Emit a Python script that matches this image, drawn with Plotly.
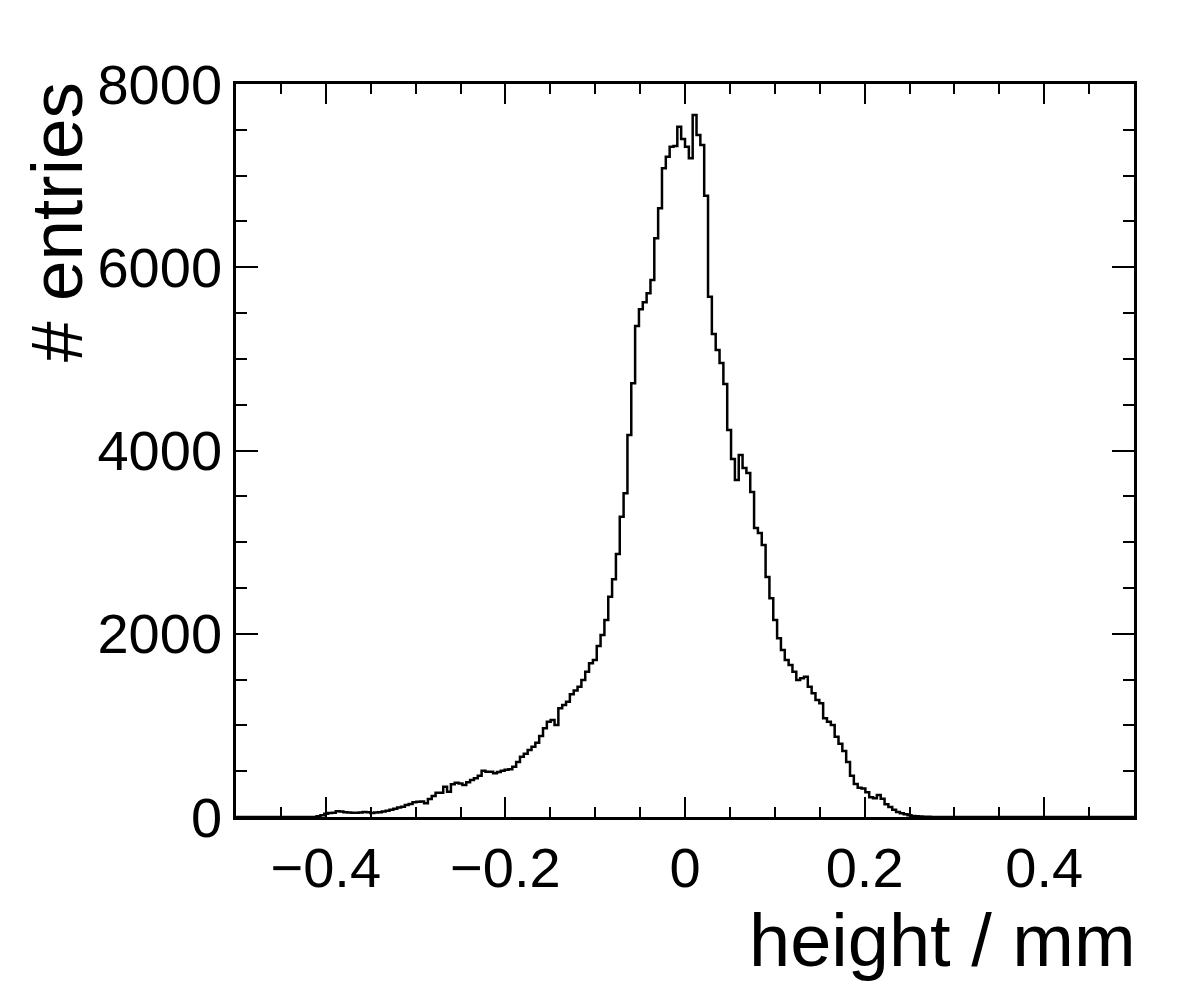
import numpy as np
import plotly.graph_objects as go

# ---- data ----
x_min, x_max = -0.5, 0.5
n_bins = 234
first_bin = 21  # index of first listed bin
counts = [
    8, 20, 35, 45, 47, 62, 60, 51, 50, 47,
    47, 48, 55, 52, 44, 50, 51, 60, 69, 80,
    91, 105, 113, 130, 142, 160, 167, 168, 150, 196,
    230, 266, 266, 331, 276, 357, 375, 365, 349, 380,
    404, 422, 450, 506, 495, 495, 477, 490, 506, 515,
    520, 549, 600, 658, 690, 730, 767, 811, 884, 968,
    1040, 1059, 1004, 1186, 1222, 1258, 1340, 1380, 1422, 1495,
    1586, 1677, 1713, 1866, 1986, 2150, 2405, 2594, 2870, 3277,
    3533, 4169, 4733, 5359, 5541, 5617, 5716, 5861, 6316, 6643,
    7080, 7207, 7316, 7323, 7534, 7400, 7316, 7189, 7662, 7443,
    7334, 6780, 5679, 5271, 5097, 4955, 4726, 4224, 3907, 3678,
    3951, 3809, 3754, 3547, 3154, 3100, 2969, 2619, 2387, 2150,
    1950, 1823, 1713, 1659, 1586, 1495, 1513, 1532, 1422, 1350,
    1277, 1241, 1077, 1040, 1004, 877, 800, 720, 600, 450,
    360, 320, 310, 270, 215, 205, 240, 200, 140, 110,
    80, 55, 40, 30, 20, 12, 8, 5, 3, 2,
]
x_ticks = [-0.4, -0.2, 0, 0.2, 0.4]
y_ticks = [0, 2000, 4000, 6000, 8000]
x_title = "height / mm"
y_title = "# entries"

# ---- build step outline ----
edges = np.linspace(x_min, x_max, n_bins + 1)
full = np.zeros(n_bins)
full[first_bin:first_bin + len(counts)] = counts
xs = edges
ys = np.append(full, full[-1])

fig = go.Figure()
fig.add_trace(go.Scatter(
    x=xs, y=ys, mode="lines",
    line=dict(shape="hv", color="black", width=2.5),
    showlegend=False, hoverinfo="skip",
))

font = "Liberation Sans, Arial, Helvetica, sans-serif"
axis_common = dict(
    showline=True, linecolor="black", linewidth=2.5, mirror="allticks",
    ticks="inside", tickcolor="black", tickwidth=2,
    showgrid=False, zeroline=False,
    tickfont=dict(family=font, size=56, color="black"),
)
fig.update_xaxes(
    range=[x_min, x_max], tickvals=x_ticks,
    ticktext=[("\u2212" if v < 0 else "") + (f"{abs(v):g}") for v in x_ticks],
    ticklen=20,
    minor=dict(ticks="inside", dtick=0.05, tick0=0, ticklen=10, tickwidth=2,
               tickcolor="black", showgrid=False),
    **axis_common,
)
fig.update_yaxes(
    range=[0, 8000], tickvals=y_ticks, ticktext=[str(v) for v in y_ticks],
    ticklen=22,
    minor=dict(ticks="inside", dtick=500, tick0=0, ticklen=11, tickwidth=2,
               tickcolor="black", showgrid=False),
    **axis_common,
)

fig.add_annotation(
    text=x_title, xref="paper", yref="paper", x=1.005, y=-0.168,
    xanchor="right", yanchor="middle", showarrow=False,
    font=dict(family=font, size=74, color="black"),
)
fig.add_annotation(
    text=y_title, xref="paper", yref="paper", x=-0.2, y=1.006,
    xanchor="center", yanchor="top", textangle=-90, showarrow=False,
    font=dict(family=font, size=73, color="black"),
)

fig.update_layout(
    width=1182, height=998,
    margin=dict(l=236, r=48, t=84, b=181),
    paper_bgcolor="white", plot_bgcolor="white",
    font=dict(family=font, color="black"),
)
fig.write_html("out.html")
